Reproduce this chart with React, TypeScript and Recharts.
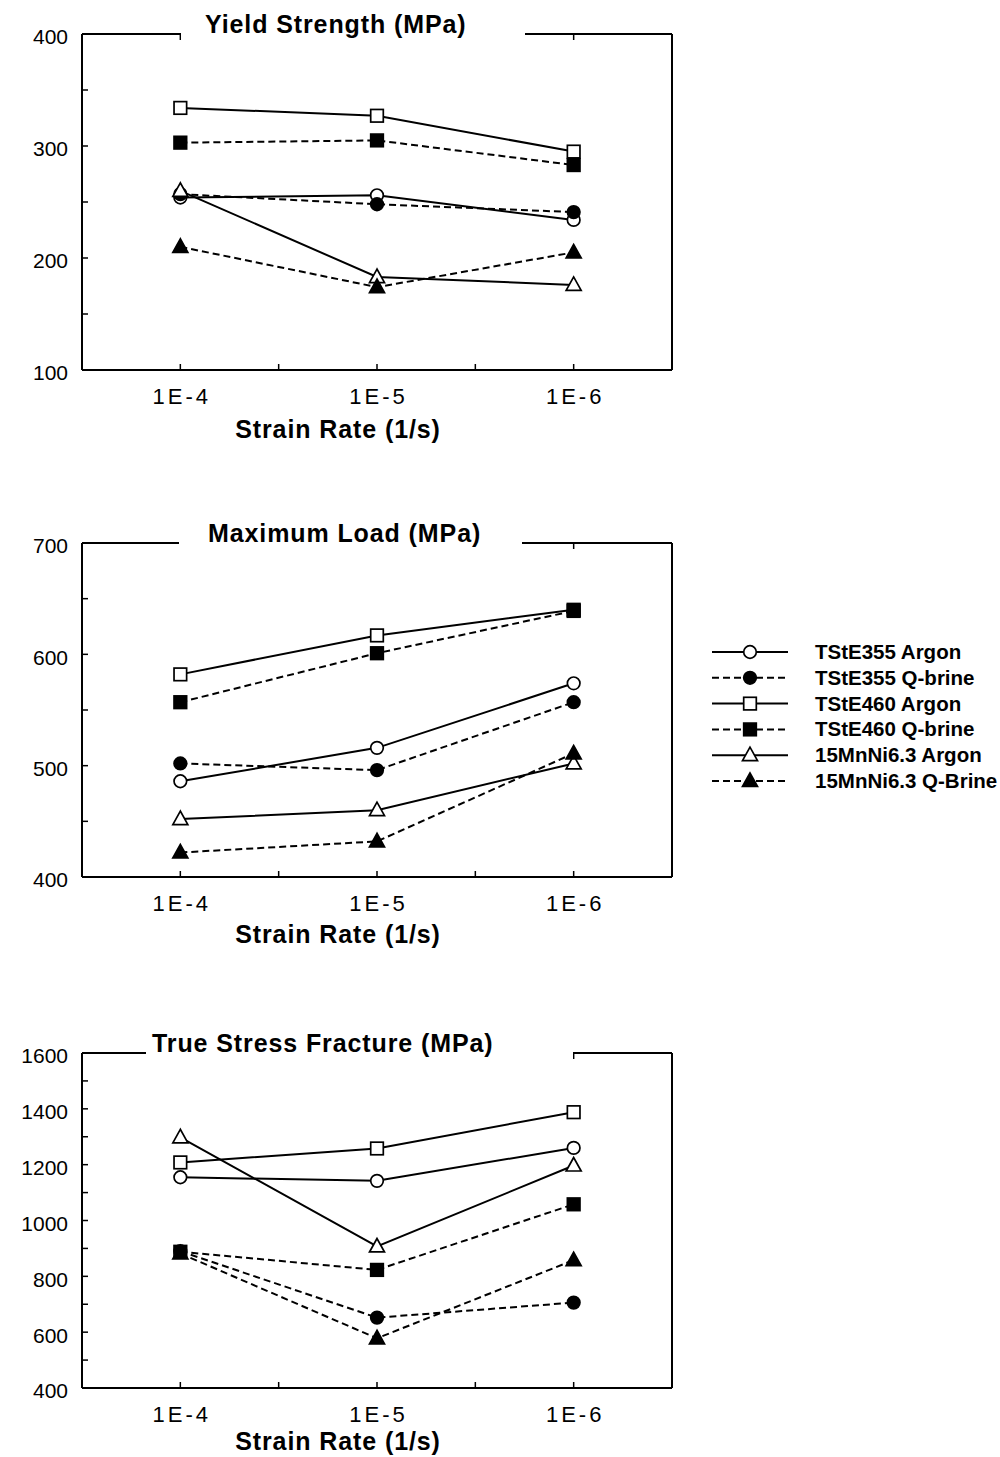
import { LineChart, Line, XAxis, YAxis, Legend } from "recharts";

const rates = ["1E-4", "1E-5", "1E-6"];

// Yield strength (MPa)
const yieldTStE355Argon = [254, 256, 234];
const yieldTStE355QBrine = [257, 248, 241];
const yieldTStE460Argon = [334, 327, 295];
const yieldTStE460QBrine = [303, 305, 283];
const yield15MnArgon = [260, 183, 176];
const yield15MnQBrine = [210, 174, 205];

// Maximum load (MPa)
const loadTStE355Argon = [486, 516, 574];
const loadTStE355QBrine = [502, 496, 557];
const loadTStE460Argon = [582, 617, 640];
const loadTStE460QBrine = [557, 601, 639];
const load15MnArgon = [452, 460, 502];
const load15MnQBrine = [422, 432, 511];

// True stress fracture (MPa)
const fracTStE355Argon = [1155, 1142, 1260];
const fracTStE355QBrine = [890, 652, 706];
const fracTStE460Argon = [1208, 1258, 1388];
const fracTStE460QBrine = [888, 823, 1058];
const frac15MnArgon = [1298, 907, 1197];
const frac15MnQBrine = [882, 578, 858];

const yieldTicks = [100, 150, 200, 250, 300, 350, 400];
const loadTicks = [400, 450, 500, 550, 600, 650, 700];
const fracTicks = [400, 500, 600, 700, 800, 900, 1000, 1100, 1200, 1300, 1400, 1500, 1600];

const series = [
  { key: "s355ar", name: "TStE355 Argon", shape: "circle", filled: false, dashed: false },
  { key: "s355qb", name: "TStE355 Q-brine", shape: "circle", filled: true, dashed: true },
  { key: "s460ar", name: "TStE460 Argon", shape: "square", filled: false, dashed: false },
  { key: "s460qb", name: "TStE460 Q-brine", shape: "square", filled: true, dashed: true },
  { key: "mnar", name: "15MnNi6.3 Argon", shape: "triangle", filled: false, dashed: false },
  { key: "mnqb", name: "15MnNi6.3 Q-Brine", shape: "triangle", filled: true, dashed: true },
];

const font = '"Liberation Sans", Arial, Helvetica, sans-serif';
const DASH = "7 4";

function buildRows(values: number[][]) {
  return rates.map((rate, i) => {
    const row: Record<string, any> = { x: i + 1, rate };
    series.forEach((s, j) => {
      row[s.key] = values[j][i];
    });
    return row;
  });
}

function Marker({ cx, cy, shape, filled }: { cx: number; cy: number; shape: string; filled: boolean }) {
  const fill = filled ? "#000" : "#fff";
  if (shape === "circle") return <circle cx={cx} cy={cy} r={6.3} fill={fill} stroke="#000" strokeWidth={1.7} />;
  if (shape === "square") return <rect x={cx - 6.3} y={cy - 6.3} width={12.6} height={12.6} fill={fill} stroke="#000" strokeWidth={1.7} />;
  return (
    <polygon
      points={`${cx},${cy - 8} ${cx - 7.5},${cy + 5.5} ${cx + 7.5},${cy + 5.5}`}
      fill={fill}
      stroke="#000"
      strokeWidth={1.7}
      strokeLinejoin="miter"
    />
  );
}

const LegendBox = () => (
  <svg width={295} height={160}>
    {series.map((s, i) => {
      const y = 12 + i * 25.8;
      return (
        <g key={s.key}>
          <line x1={7} x2={83} y1={y} y2={y} stroke="#000" strokeWidth={2} strokeDasharray={s.dashed ? DASH : undefined} />
          <Marker cx={45} cy={y} shape={s.shape} filled={s.filled} />
          <text x={110} y={y + 7} fontFamily={font} fontWeight={700} fontSize={20.5} fill="#000">
            {s.name}
          </text>
        </g>
      );
    })}
  </svg>
);

const PanelTitle = ({ viewBox, title, titleX, gap }: any) => {
  const yLine = viewBox.y + viewBox.height;
  return (
    <g>
      <rect x={gap[0]} y={yLine - 4} width={gap[1] - gap[0]} height={12} fill="#fff" />
      <text x={titleX} y={yLine - 1} fontFamily={font} fontWeight={700} fontSize={25} fill="#000" style={{ letterSpacing: 0.9 }}>
        {title}
      </text>
    </g>
  );
};

const AxisTitle = ({ viewBox, baseline }: any) => (
  <text x={338} y={viewBox.y + baseline} textAnchor="middle" fontFamily={font} fontWeight={700} fontSize={25} fill="#000" style={{ letterSpacing: 0.9 }}>
    Strain Rate (1/s)
  </text>
);

type PanelProps = {
  top: number;
  plotHeight: number;
  data: Record<string, any>[];
  domain: [number, number];
  ticks: number[];
  labelStep: number;
  title: string;
  titleX: number;
  gap: [number, number];
  labelBaseline: number;
  legend?: boolean;
};

const Panel = ({ top, plotHeight, data, domain, ticks, labelStep, title, titleX, gap, labelBaseline, legend }: PanelProps) => {
  const topAxisH = 30;
  const bottomAxisH = 74;
  return (
    <div style={{ position: "absolute", left: 0, top: top - topAxisH }}>
      <LineChart width={700} height={topAxisH + plotHeight + bottomAxisH} data={data} margin={{ top: 0, right: 27, left: 0, bottom: 0 }}>
        <XAxis
          xAxisId="b"
          dataKey="x"
          type="number"
          domain={[0.5, 3.5]}
          ticks={[1, 1.5, 2, 2.5, 3]}
          interval={0}
          height={bottomAxisH}
          tickSize={-6}
          tickMargin={24}
          tickFormatter={(v: number) => (Number.isInteger(v) ? rates[v - 1] : "")}
          tick={{ fontSize: 22, fill: "#000", fontFamily: font, dx: 1.5, style: { letterSpacing: 3 } }}
          axisLine={{ stroke: "#000", strokeWidth: 2 }}
          tickLine={{ stroke: "#000", strokeWidth: 1.5 }}
          label={<AxisTitle baseline={labelBaseline} />}
        />
        <XAxis
          xAxisId="t"
          orientation="top"
          dataKey="x"
          type="number"
          domain={[0.5, 3.5]}
          ticks={[1, 2, 3]}
          interval={0}
          height={topAxisH}
          tickSize={-6}
          tickFormatter={() => ""}
          axisLine={{ stroke: "#000", strokeWidth: 2 }}
          tickLine={{ stroke: "#000", strokeWidth: 1.5 }}
          label={<PanelTitle title={title} titleX={titleX} gap={gap} />}
        />
        <YAxis
          yAxisId="l"
          type="number"
          domain={domain}
          ticks={ticks}
          interval={0}
          width={82}
          tickSize={-6}
          tickMargin={20}
          tickFormatter={(v: number) => ((v - domain[0]) % labelStep === 0 ? String(v) : "")}
          tick={{ fontSize: 21, fill: "#000", fontFamily: font, dy: 3 }}
          axisLine={{ stroke: "#000", strokeWidth: 2 }}
          tickLine={{ stroke: "#000", strokeWidth: 1.5 }}
        />
        <YAxis
          yAxisId="r"
          orientation="right"
          type="number"
          domain={domain}
          ticks={ticks}
          interval={0}
          width={1}
          tickSize={-6}
          tickFormatter={() => ""}
          axisLine={{ stroke: "#000", strokeWidth: 2 }}
          tickLine={{ stroke: "#000", strokeWidth: 1.5 }}
        />
        {series.map((s) => (
          <Line
            key={s.key}
            xAxisId="b"
            yAxisId="l"
            dataKey={s.key}
            name={s.name}
            type="linear"
            stroke="#000"
            strokeWidth={2}
            strokeDasharray={s.dashed ? DASH : undefined}
            isAnimationActive={false}
            dot={(p: any) => <Marker key={`${s.key}-${p.index}`} cx={p.cx} cy={p.cy} shape={s.shape} filled={s.filled} />}
            activeDot={false}
          />
        ))}
        {legend && (
          <Legend
            layout="vertical"
            align="center"
            verticalAlign="middle"
            wrapperStyle={{ left: 705, top: 127, width: 295 }}
            content={() => <LegendBox />}
          />
        )}
      </LineChart>
    </div>
  );
};

const yieldRows = buildRows([yieldTStE355Argon, yieldTStE355QBrine, yieldTStE460Argon, yieldTStE460QBrine, yield15MnArgon, yield15MnQBrine]);
const loadRows = buildRows([loadTStE355Argon, loadTStE355QBrine, loadTStE460Argon, loadTStE460QBrine, load15MnArgon, load15MnQBrine]);
const fracRows = buildRows([fracTStE355Argon, fracTStE355QBrine, fracTStE460Argon, fracTStE460QBrine, frac15MnArgon, frac15MnQBrine]);

export default function App() {
  return (
    <div style={{ position: "absolute", left: 0, top: 0, width: 1000, height: 1457, background: "#fff", fontFamily: font }}>
      <Panel top={34} plotHeight={336} data={yieldRows} domain={[100, 400]} ticks={yieldTicks} labelStep={100}
        title="Yield Strength (MPa)" titleX={205} gap={[181, 525]} labelBaseline={68} />
      <Panel top={543} plotHeight={334} data={loadRows} domain={[400, 700]} ticks={loadTicks} labelStep={100}
        title="Maximum Load (MPa)" titleX={208} gap={[179, 522]} labelBaseline={66} legend />
      <Panel top={1053} plotHeight={335} data={fracRows} domain={[400, 1600]} ticks={fracTicks} labelStep={200}
        title="True Stress Fracture (MPa)" titleX={152} gap={[146, 573]} labelBaseline={62} />
    </div>
  );
}
